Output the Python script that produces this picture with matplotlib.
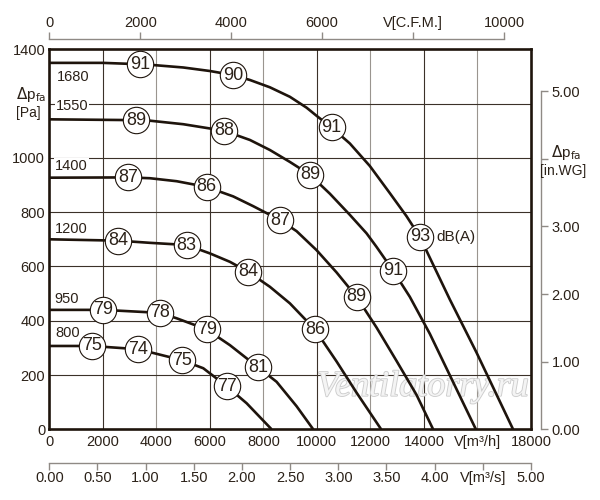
"""
Fan performance curves: static pressure vs. air volume for six speeds,
with sound-power markers (dB(A)) along each curve.
"""

import matplotlib.pyplot as plt
import matplotlib.patheffects as pe

plt.rcParams["font.family"] = ["Liberation Sans", "DejaVu Sans"]

INK = "#1e140c"
TXT = "#2b2118"
GRID_DARK = "#3b3129"
GRID_LIGHT = "#9a958f"
SPINE2 = "#8f8a85"

# --- data: air volume [m3/h] and pressure [Pa] ---
rpm = [1680, 1550, 1400, 1200, 950, 800]

q_1680 = [0, 2000, 3388, 3761, 5005, 6002, 6872, 7496, 8243, 8990, 9613, 9987,
          10548, 11231, 11978, 12725, 13349, 13846, 14968, 15963, 17330]
p_1680 = [1350, 1350, 1345, 1343, 1333, 1320, 1305, 1287, 1260, 1225, 1185, 1155,
          1112, 1053, 970, 870, 785, 709, 478, 283, 0]

q_1550 = [0, 3238, 3761, 5005, 6525, 7496, 8243, 8990, 9737, 10484, 11231, 11855,
          12228, 12850, 13472, 14219, 15940]
p_1550 = [1142, 1139, 1137, 1124, 1100, 1066, 1029, 985, 938, 868, 790, 722,
          672, 584, 488, 352, 0]

q_1400 = [0, 2952, 3761, 4758, 5879, 6872, 7620, 8617, 9240, 9987, 10734, 11481,
          12228, 12975, 13722, 14342]
p_1400 = [927, 928, 925, 914, 893, 858, 822, 771, 730, 660, 578, 488,
          375, 252, 127, 0]

q_1200 = [0, 2577, 3761, 5132, 6002, 6749, 7433, 8243, 8990, 9924, 10734, 11481, 12400]
p_1200 = [700, 695, 687, 679, 648, 617, 580, 525, 464, 368, 250, 135, 0]

q_950 = [0, 2017, 4135, 4758, 5879, 6749, 7806, 8493, 9240, 9861]
p_950 = [440, 440, 429, 409, 368, 310, 228, 175, 85, 0]

q_800 = [0, 1584, 3324, 4945, 5752, 6625, 7373, 8306]
p_800 = [307, 307, 295, 255, 225, 159, 96, 0]

# sound markers on each curve
mq_1680 = [3388, 6872, 10548, 13846]
mp_1680 = [1345, 1305, 1112, 709]
db_1680 = [91, 90, 91, 93]

mq_1550 = [3238, 6525, 9737, 12850]
mp_1550 = [1139, 1100, 938, 584]
db_1550 = [89, 88, 89, 91]

mq_1400 = [2952, 5879, 8617, 11481]
mp_1400 = [928, 893, 771, 488]
db_1400 = [87, 86, 87, 89]

mq_1200 = [2577, 5132, 7433, 9924]
mp_1200 = [695, 679, 580, 368]
db_1200 = [84, 83, 84, 86]

mq_950 = [2017, 4135, 5879, 7806]
mp_950 = [440, 429, 368, 228]
db_950 = [79, 78, 79, 81]

mq_800 = [1584, 3324, 4945, 6625]
mp_800 = [307, 295, 255, 159]
db_800 = [75, 74, 75, 77]

# rpm label anchors (left edge, centre)
lab_q = [276, 250, 220, 220, 190, 215]
lab_p = [1297, 1191, 970, 738, 480, 354]

curves = [
    (q_1680, p_1680, mq_1680, mp_1680, db_1680),
    (q_1550, p_1550, mq_1550, mp_1550, db_1550),
    (q_1400, p_1400, mq_1400, mp_1400, db_1400),
    (q_1200, p_1200, mq_1200, mp_1200, db_1200),
    (q_950, p_950, mq_950, mp_950, db_950),
    (q_800, p_800, mq_800, mp_800, db_800),
]

fig = plt.figure(figsize=(6, 5), dpi=100)
ax = fig.add_axes([0.0822, 0.1414, 0.8028, 0.76])
ax.set_xlim(0, 18000)
ax.set_ylim(0, 1400)

# grid: vertical lines alternate dark / light
for i, gx in enumerate(range(2000, 18000, 2000)):
    ax.axvline(gx, color=GRID_DARK if i % 2 == 0 else GRID_LIGHT, lw=0.8, zorder=1)
for gy in range(200, 1400, 200):
    ax.axhline(gy, color=GRID_DARK, lw=0.8, zorder=1)

# watermark
ax.text(13958, 155, "Ventilatorry.ru", family="Liberation Serif", style="italic",
        fontsize=26, color="#f4f4f4", ha="center", va="center", zorder=2,
        path_effects=[pe.withStroke(linewidth=1.3, foreground="#cdcdcd")])

for q, p, mq, mp, db in curves:
    ax.plot(q, p, color=INK, lw=1.9, zorder=3, solid_capstyle="butt", solid_joinstyle="round")
    ax.plot(mq, mp, "o", ms=19, mfc="white", mec=INK, mew=0.8, zorder=4, clip_on=False)
    for x, y, v in zip(mq, mp, db):
        ax.text(x, y, str(v), fontsize=13, color=TXT, ha="center", va="center", zorder=5)

ax.text(14480, 709, "dB(A)", fontsize=11, color=TXT, ha="left", va="center", zorder=5)

for r, x, y in zip(rpm, lab_q, lab_p):
    ax.text(x, y, str(r), fontsize=10.5, color=TXT, ha="left", va="center", zorder=5,
            bbox=dict(boxstyle="square,pad=0.05", fc="white", ec="none"))

# main axes frame and tick labels
for s in ax.spines.values():
    s.set_linewidth(1.9)
    s.set_color(INK)
    s.set_zorder(6)

xt = list(range(0, 18001, 2000))
ax.set_xticks(xt)
ax.set_xticklabels(["V[m³/h]" if v == 16000 else str(v) for v in xt])
yt = list(range(0, 1401, 200))
ax.set_yticks(yt)
ax.set_yticklabels(["" if v == 1200 else str(v) for v in yt])
ax.tick_params(length=0, labelsize=10.5, labelcolor=TXT)
ax.tick_params(axis="x", pad=4)
ax.tick_params(axis="y", pad=3)

# top: C.F.M.
top = ax.secondary_xaxis(1.0271, functions=(lambda x: x * 0.588578, lambda x: x / 0.588578))
ct = [0, 2000, 4000, 6000, 8000, 10000]
top.set_xticks(ct)
top.set_xticklabels(["V[C.F.M.]" if v == 8000 else str(v) for v in ct])
top.spines["top"].set_bounds(0, 10000)

# bottom: m3/s
bot = ax.secondary_xaxis(-0.0879, functions=(lambda x: x / 3600.0, lambda x: x * 3600.0))
st = [0, 0.5, 1, 1.5, 2, 2.5, 3, 3.5, 4, 4.5, 5]
bot.set_xticks(st)
bot.set_xticklabels(["V[m³/s]" if v == 4.5 else f"{v:.2f}" for v in st])

# right: in.WG
rgt = ax.secondary_yaxis(1.0201, functions=(lambda y: y / 249.089, lambda y: y * 249.089))
wt = [0, 1, 2, 3, 4, 5]
rgt.set_yticks(wt)
rgt.set_yticklabels(["" if v == 4 else f"{v:.2f}" for v in wt])
rgt.spines["right"].set_bounds(0, 5)

for sec in (top, bot, rgt):
    for s in sec.spines.values():
        s.set_color(SPINE2)
        s.set_linewidth(1.0)
    sec.tick_params(length=5.2, width=1.0, color=SPINE2, labelsize=10.5,
                    labelcolor=TXT, pad=1)
rgt.tick_params(pad=2.5)

# axis titles
fig.text(31 / 600, 1 - 95 / 500, r"$\Delta$p$_{\rm fa}$", fontsize=11, color=TXT,
         ha="center", va="center")
fig.text(28 / 600, 1 - 113 / 500, "[Pa]", fontsize=10, color=TXT, ha="center", va="center")
fig.text(566 / 600, 1 - 152 / 500, r"$\Delta$p$_{\rm fa}$", fontsize=11, color=TXT,
         ha="center", va="center")
fig.text(563 / 600, 1 - 171 / 500, "[in.WG]", fontsize=10, color=TXT, ha="center", va="center")

fig.savefig("out.png", dpi=100)
